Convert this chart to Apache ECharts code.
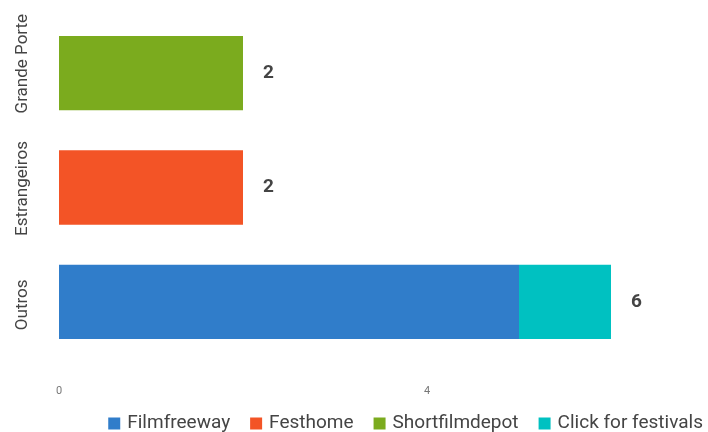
<!DOCTYPE html>
<html>
<head>
<meta charset="utf-8">
<script src="https://cdn.jsdelivr.net/npm/echarts@6/dist/echarts.min.js"></script>
<style>
  html, body { margin: 0; padding: 0; background: #fff; }
  #chart { width: 708px; height: 432px; }
</style>
</head>
<body>
<div id="chart"></div>
<script>
// Festival submission platforms, grouped by festival type
const categories = ['Outros', 'Estrangeiros', 'Grande Porte'];
const filmfreeway = [5, null, null];
const festhome = [null, 2, null];
const shortfilmdepot = [null, null, 2];
const clickForFestivals = [1, null, null];
const seriesNames = ['Filmfreeway', 'Festhome', 'Shortfilmdepot', 'Click for festivals'];
const colors = ['#307dca', '#f35426', '#7bab1e', '#00c1c1'];
const xTicks = [0, 4];

const seriesValues = [filmfreeway, festhome, shortfilmdepot, clickForFestivals];

// stack totals per category, shown at the end of each bar
const totals = categories.map((_, i) =>
  seriesValues.reduce((s, arr) => s + (arr[i] || 0), 0));

// index of the last series that has a value in each category
const lastSeries = categories.map((_, i) => {
  let last = -1;
  seriesValues.forEach((arr, k) => { if (arr[i] != null) last = k; });
  return last;
});

// small per-label nudges along the rotated category labels
const labelPadding = {
  'Outros': [0, 6, 0, 0],
  'Estrangeiros': [0, 2, 0, 0],
  'Grande Porte': [0, 0, 0, 19]
};

const chart = echarts.init(document.getElementById('chart'));

chart.setOption({
  animation: false,
  textStyle: { fontFamily: 'Roboto' },
  grid: { left: 59, right: 5, top: 16, bottom: 73, containLabel: false },
  legend: {
    data: seriesNames,
    right: 0,
    top: 409,
    itemWidth: 12,
    itemHeight: 12,
    itemGap: 20,
    icon: 'rect',
    textStyle: { fontSize: 19, color: '#444', fontFamily: 'Roboto', padding: [0, 0, 0, 2] }
  },
  xAxis: {
    type: 'value',
    min: 0,
    max: 7,
    interval: 4,
    axisLine: { show: false },
    axisTick: { show: false },
    splitLine: { show: false },
    axisLabel: {
      color: '#777',
      fontSize: 11,
      margin: 27,
      showMaxLabel: false,
      formatter: v => (xTicks.indexOf(v) >= 0 ? String(v) : '')
    }
  },
  yAxis: {
    type: 'category',
    data: categories.map(c => ({ value: c, textStyle: { padding: labelPadding[c] } })),
    axisLine: { show: false },
    axisTick: { show: false },
    axisLabel: {
      rotate: 90,
      interval: 0,
      color: '#444',
      fontSize: 17,
      margin: 28,
      align: 'center',
      verticalAlign: 'middle'
    }
  },
  series: seriesNames.map((name, k) => ({
    name,
    type: 'bar',
    stack: 'total',
    barWidth: '65%',
    itemStyle: { color: colors[k] },
    data: seriesValues[k].map((v, i) => ({
      value: v == null ? '-' : v,
      label: {
        show: lastSeries[i] === k,
        position: 'right',
        distance: 20,
        fontSize: 19,
        fontWeight: 'bold',
        color: '#444',
        formatter: () => String(totals[i])
      }
    }))
  }))
});
</script>
</body>
</html>
